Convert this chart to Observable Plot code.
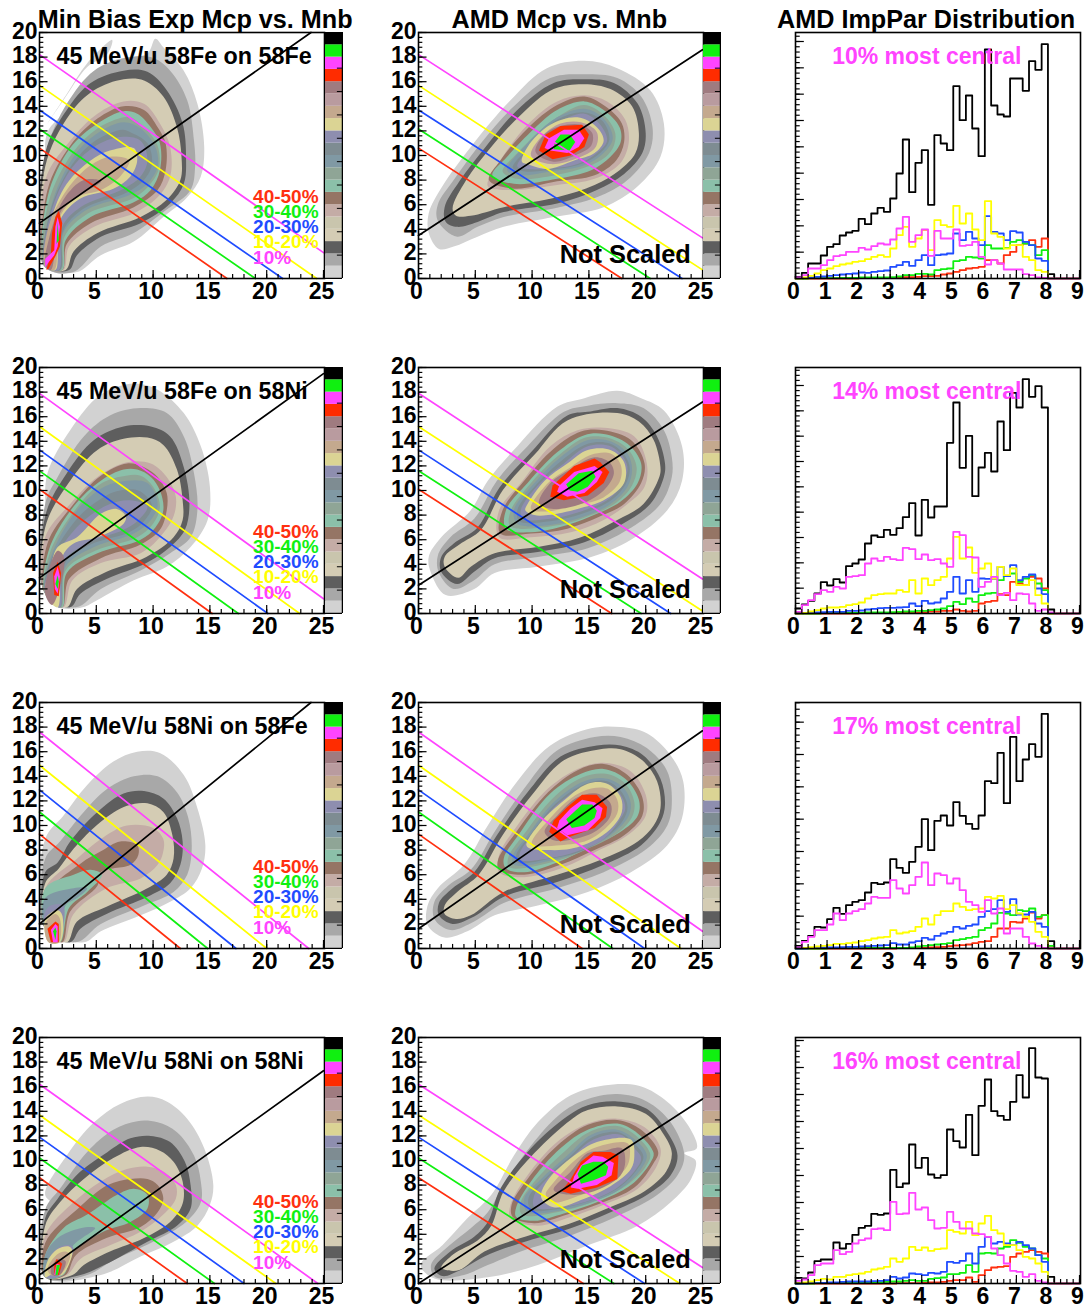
<!DOCTYPE html>
<html><head><meta charset="utf-8">
<script src="https://cdn.jsdelivr.net/npm/d3@7"></script>
<script src="https://cdn.jsdelivr.net/npm/@observablehq/plot@0.6"></script>
<style>body{margin:0;background:#fff}#c{position:relative;width:1086px;height:1308px;overflow:hidden}#c svg{position:absolute;background:none;max-width:none}</style>
</head><body><div id="c"></div>
<script>
const palette=["#d2d2d2","#a8a8a8","#5e5e5e","#d4ccb4","#c9c5ad","#c4aca6","#957565","#8bc0a9","#8fa596","#8099a4","#7e8c92","#8e8eaf","#dbd494","#c4a98e","#b99b9f","#9f7b80","#ff2c00","#ff44ff","#10f010","#000000"];
const lineColors={red:"#ff3010",green:"#10f010",blue:"#1f4cff",yellow:"#ffff00",magenta:"#ff44ff",black:"#000000"};

// ---- contour outlines [level, [x,y,x,y,...]] ----
const expFeFe=[
[0,[3.2,.5,5.4,1.9,8.3,3,10.9,5,13,6.6,14.2,8.3,14.5,10.7,13.9,14.2,12.7,16.9,10.9,18.8,10.2,19.5,9.5,18.3,6.8,17.8,4.3,16.4,2.4,13.7,.7,11.9,.5,9.1,.4,1]],
[0,[.7,12.6,2.4,15,4.2,17.5,6.4,19.4,6,18.3,4.2,17.2,2.1,14.5]],
[1,[2.9,.5,5.4,2.6,8.3,3.7,11.2,5.6,13.3,7.2,13.7,9.1,13.6,11.2,13,14.5,11.5,16.9,9.8,18,7.4,17.9,4.8,16.9,2.4,14.2,.7,10.7,.5,8.5,.4,1]],
[2,[2.6,.7,3.3,1.9,5.4,3.4,8.9,4.5,11.5,6.1,12.7,7.7,12.9,9.9,12.6,12.6,11.2,15.3,9.5,16.8,7.4,16.9,4.5,15.9,2.4,13.7,.5,10.2,.5,1]],
[3,[2.3,.7,3,2.2,5.1,3.7,8.9,5,11.2,6.4,12.4,8,12.5,9.9,12.1,12.3,10.9,14.8,9.2,16.1,7.4,16.2,4.8,15.3,2.7,13.4,.5,9.1,.5,1]],
[5,[2.1,.7,2.6,2.6,4.8,4.2,8.3,5.3,10.4,6.6,11.5,8.3,11.5,10.7,10.6,12.6,9.2,14.2,7.4,14.4,5.1,13.4,2.7,11.2,.5,8,.5,1]],
[6,[2,.7,2.4,2.8,4.5,4.5,8.3,5.8,10.4,7.2,11.1,8.8,11.1,11,10.4,12.3,9.2,13.7,7.4,14,5.1,13,2.7,10.8,.7,7.2,.5,1]],
[7,[2,.7,2.3,3.1,4.5,5,8.3,6.2,9.8,7.2,10.6,8.8,10.6,11,9.8,12.3,8.6,13.4,7.4,13.6,5.1,12.6,2.7,10.6,.7,6.6,.5,1]],
[8,[1.9,.7,2.2,3.4,4.3,5.3,8.2,6.5,9.6,7.5,10.5,8.9,10.4,10.8,9.3,12.2,8,13.1,7.4,13.1,5.1,12.2,2.9,10.2,.8,6.2,.5,1]],
[9,[1.8,.7,2.1,3.7,4.2,5.6,8,6.8,9.5,7.7,10.4,9.1,10.2,10.7,8.9,12.2,7.4,12.7,5.1,11.8,3,9.9,1,5.8,.5,1]],
[10,[1.8,.7,2.1,3.9,3.9,5.7,7.7,7,9.2,8,9.9,9.3,9.5,11,8,11.9,7.3,12.1,4.9,11.2,2.9,9.3,1,5.6,.5,1]],
[11,[1.7,.7,2,4.2,3.6,5.8,7.4,7.3,8.9,8.3,9.5,9.6,8.9,11.2,7.1,11.5,4.8,10.7,2.7,8.8,1,5.3,.5,1]],
[12,[1.4,.7,1.8,4.7,3.6,6.5,6.5,7.3,8,8.3,8.6,9.6,8.3,10.6,6.2,10.4,4.5,9.6,2.4,7.7,1,4.7,.5,1]],
[13,[1.3,.7,1.8,5,3.3,6.6,5.4,7.2,7.1,8.3,7.9,9.6,6.2,9.9,4.5,9.2,2.4,7.2,.8,4.2,.5,1]],
[15,[1,.7,1.8,5.3,2.9,6.4,5.4,7.9,3.9,8,2.1,6.4,.8,3.1,.5,1]],
[16,[.6,.7,1,2,1.1,3.7,1.4,5,1.7,5.5,2,4.5,1.8,2.6,1.4,1.8,.8,.8]],
[17,[.5,.9,.5,1.6,1.3,2.3,1.4,4.2,1.6,5,1.8,4.2,1.6,2.6,1.3,1.9,.7,1.2]],
[18,[1.5,2.8,1.6,4.6,1.7,3.1]]];
const amdFeFe=[
[0,[1.8,2.4,.9,3.7,.9,5.3,2.1,7.5,4.6,10.7,8.1,14.5,11.3,17.1,14.6,17.7,17.5,17.1,20.4,15.3,21.6,12.6,21.3,9.9,19.3,7.5,16.3,5.8,11.9,5,7.5,4.2,5.2,3.4,3.1,2.6]],
[1,[1.7,4.7,1.7,6,3.1,8,5.5,11,8.4,14,11.6,16.3,14.6,16.6,17.5,16.3,19.6,14.8,20.6,12.3,20.3,10.2,18.4,8,15.7,6.6,11.9,5.7,7.5,5,5.2,4.2,3.4,3.4]],
[2,[2.4,4.6,2.3,5.8,3.6,7.9,5.9,10.7,8.7,13.7,11.9,15.9,14.6,16.2,17.2,15.9,19.3,14.2,20,11.8,19.7,10.2,18.1,8.5,15.7,7.2,12.2,6.1,7.5,5.4,5.2,4.6,3.4,4.2]],
[3,[3.3,5.1,3,5.7,4.2,8,6.4,10.7,9,13.3,11.9,15.4,14.6,15.8,16.9,15.4,18.8,14,19.4,11.8,19.1,10.2,17.7,8.8,15.5,7.6,12.2,6.6,7.5,5.8,4.6,5.1]],
[5,[6.1,7.5,7,9.3,9.6,12.5,12.2,14.4,14.6,14.9,16.6,14.4,18.2,12.9,18.5,11,17.7,9.3,15.5,8.1,12.2,7.6,8.4,7.2]],
[6,[6.2,8,7.2,9.6,9.6,12.2,12.2,14.1,14.6,14.8,16.6,13.9,17.9,12.6,18.1,11.1,17.4,9.6,15.5,8.4,12.2,7.9,8.4,7.3]],
[7,[6.5,8.4,7.8,9.9,10.2,12.2,12.2,13.7,14.6,14.4,16.3,13.7,17.7,12.3,17.8,11.1,16.9,9.9,15.2,8.8,12.2,8.1,8.4,7.7]],
[8,[7.4,8.7,8.7,10.2,10.8,12.1,12.7,13.4,14.6,14.1,16.3,13.3,17.3,11.9,17.2,10.8,16.5,9.9,14.9,9.1,12,8.4,8.7,8.1]],
[9,[7.8,8.8,9.6,11,12.2,13.1,14.6,13.8,16.3,13,17.1,11.4,16.3,10.2,14.6,9.2,11.6,8.7,9,8.4]],
[10,[8.3,9,9.9,10.8,12.2,12.9,14.6,13.5,16.2,12.8,16.8,11.3,16,10.2,14.3,9.3,11.3,8.8,9.4,8.7]],
[11,[8.7,9.1,10.2,11,12.2,12.6,14.6,13.4,16,12.5,16.6,11.2,15.7,10.2,14,9.3,11.3,8.9,9.6,8.9]],
[12,[9.1,9.5,9.6,10.7,11.6,12.5,14,13.1,15.7,12.3,16.3,11.2,15.5,10.2,13.7,9.6,11.3,8.9,9.6,9.3]],
[14,[9.9,10,10.8,11.5,12.5,12.6,14.3,12.7,15.7,11.9,15.6,10.7,14.3,9.9,11.6,9.3]],
[15,[10.3,10.3,11.2,11.8,12.5,12.4,14.3,12.5,15.3,11.8,15.2,10.8,14,10.1,11.9,9.5]],
[16,[10.6,10.4,11.2,11.7,12.5,12.4,14.4,12.5,15,11.7,14.6,10.7,13.4,10,11.8,9.7]],
[17,[11.1,10.6,11.5,11.4,12.8,12.1,14.1,12.1,14.6,11.4,14.1,10.7,13.1,10.2,11.6,10.4]],
[18,[12,11.1,12.5,11.7,13.3,11.7,13.8,11.1,13.3,10.4,11.9,10.5]]];
const expFeNi=[
[0,[3.8,.5,5.1,1.1,8.3,2.7,11.2,3.8,13.3,5.4,14.8,7.6,15,10.3,14.2,13.6,12.7,16.3,10.4,18.2,8.3,18.7,5.4,17.8,2.7,14.9,.7,11.4,.5,8.4,.5,1.6,1.6,.5]],
[1,[3.2,.5,5.4,2,8.9,3.5,11.5,4.9,13.3,6.2,13.9,8.4,13.6,11.4,12.7,14.4,11.2,16.3,8.9,16.7,6.2,16.1,3.9,14.4,1.6,11.1,.5,8.9,.5,1.6]],
[2,[2.7,.5,3.6,1.6,5.9,2.8,9.4,4.1,11.5,5.4,12.8,6.8,13.2,8.9,12.7,11.9,11.5,14.4,9.8,15.2,7.4,15.2,4.8,14.1,2.4,11.4,.5,7.9,.5,1.6]],
[3,[2.4,.5,3.3,2,5.9,3.4,9.4,4.6,11.8,6.2,12.6,7.6,12.6,9.2,12.1,11.7,10.9,13.7,9.5,14.3,7.4,14.2,5.1,13.3,2.7,10.8,.5,7,.5,1.6]],
[5,[2.1,.5,2.9,2.7,5.4,4.1,8.9,4.9,10.6,6.2,11.8,7.9,12,9.5,11.2,11.1,9.8,12.2,7.7,12.3,5.1,11.1,2.7,8.9,.5,6.2,.5,1.6]],
[6,[2,.5,2.6,2.8,5.4,4.5,8.9,5.6,10.6,6.8,11.2,8.4,11.2,9.8,10.4,11.1,9.2,11.9,7.7,12.2,5.4,11.2,3,8.9,.7,5.7,.5,1.6]],
[7,[2,.5,2.4,3.3,5.1,4.9,8.9,6,10.2,7,10.9,8.4,10.6,10,9.8,11.1,8.6,11.7,7.4,11.7,5.4,10.8,3,8.7,.8,5.1,.5,1.6]],
[8,[1.9,.5,2.3,3.5,4.9,5.1,8.6,6.2,10,7.3,10.6,8.7,10,10.3,8.9,11.2,7.6,11.2,5.5,10.6,3.2,8.5,.9,4.9,.5,1.6]],
[9,[1.8,.5,2.3,3.8,4.8,5.4,8.3,6.5,9.8,7.6,10.4,8.9,9.5,10.6,7.7,10.8,5.7,10.3,3.3,8.4,1,4.6,.5,1.6]],
[10,[1.8,.5,2.2,4,4.5,5.6,7.9,6.6,9.2,7.5,9.9,8.8,8.7,10,7.1,10,5.9,9.6,3.5,7.9,1,4.3,.5,1.6]],
[11,[1.8,.5,2.1,4.2,4.2,5.7,7.4,6.8,8.6,7.5,9.5,8.7,8,9.2,6.2,8.9,3.6,7.3,1.1,4.1,.5,1.6]],
[12,[1.6,.5,2,4.6,3,5.7,5.1,6.2,7.4,7.3,7.6,7.9,6.8,8.5,5.4,8.1,3.3,6.2,1.6,5.4,1,3.8,.5,1.6]],
[15,[1.1,.7,2.1,3.3,2.1,4.7,1.6,5.1,.8,3.5,.5,1.6]],
[16,[1.3,1.5,1.7,1.4,1.9,3.3,1.6,4.2,1.2,3.3]],
[17,[1.35,2,1.6,1.6,1.8,3,1.6,3.8,1.3,3]],
[18,[1.4,2.4,1.6,2,1.7,2.6,1.6,3.1]]];
const amdFeNi=[
[0,[2.4,1.5,1.1,3.3,.9,4.6,2,6.2,4.6,8.4,6.1,10.8,8.7,13.6,12.2,16.8,14.6,17.5,17.5,18.1,19.6,17.5,21.6,16.5,23.2,13.6,23.2,10.8,21.9,8.4,18.7,6,15.2,4.6,10.5,3.8,6.7,3.3,4.9,2]],
[1,[3.1,2,1.8,3.3,1.7,4.7,2.8,6.2,4.9,7.7,6.9,10.8,9.6,13.6,12.8,16.4,14.9,16.9,17.5,17.1,19.8,16.7,21.6,14.9,22.3,12.7,22.3,11.1,21.3,8.9,18.4,6.8,14.9,5.3,10.5,4.6,6.7,4,4.9,2.7]],
[2,[3.4,2.4,2,3.4,2,4.6,3.1,5.7,5.2,7,7.1,10.2,9.9,13.1,13.1,16.1,14.9,16.4,17.5,16.7,19.6,16,21,14.4,21.7,12.2,21.6,11.1,20.4,8.9,17.8,7.2,14.6,5.8,10.5,5,6.7,4.5,4.9,3.4]],
[3,[3.5,2.9,2.3,3.8,2.3,4.6,3.6,5.6,5.5,6.8,7.4,10,10.2,12.9,13.1,15.7,17.5,16.3,19.4,15.6,20.7,14.1,21.3,11.9,21.2,11.1,19.8,8.9,17.5,7.6,14.3,6.2,10.5,5.4,6.7,4.9,4.6,3.8]],
[5,[7.1,6.2,7.1,8.4,9,10.6,11.6,13.6,14,14.9,16.3,15.1,19,14.4,20.1,12.2,19.9,10.3,18.4,8.9,16.3,7.6,13.4,6.6,9.9,6.2]],
[6,[7.2,6.5,7.4,8.4,9.3,10.8,11.9,13.4,14.3,14.8,16.3,14.9,18.7,14.1,19.9,12.2,19.6,10.6,18.1,8.9,16,7.9,13.1,6.9,9.9,6.5]],
[7,[7.7,6.9,7.7,8.4,9.6,10.6,12.2,13.1,14.6,14.5,16.3,14.6,18.4,13.8,19.6,12.2,19.3,10.6,17.8,9.1,15.7,8.1,13.1,7.2,9.9,6.6]],
[8,[8.1,7.1,8.1,8.3,9.9,10.6,12.4,12.9,14.7,14.3,16.6,14.3,18.4,13.4,19.2,11.9,18.8,10.4,17.4,9,15.2,8,12.4,7.2]],
[9,[8.7,7.3,8.4,8.4,10.2,10.6,12.5,12.7,14.9,14.1,16.9,14,18.4,13,18.8,11.7,18.4,10.3,16.9,8.9,14.6,7.9,11.6,7.2]],
[10,[8.9,7.5,8.7,8.4,10.5,10.6,12.7,12.5,14.9,13.8,16.9,13.8,18.2,12.8,18.6,11.7,18.1,10.3,16.8,9.1,14.4,8.1,11.6,7.5]],
[11,[9.2,7.7,9,8.4,10.7,10.6,12.8,12.2,14.9,13.6,16.9,13.6,18.1,12.6,18.4,11.7,17.8,10.3,16.6,9.2,14.3,8.3,11.6,7.7]],
[12,[9.4,8.4,9.6,8.9,11.1,10.8,13.1,12.2,14.9,13.3,16.9,13.3,18.1,12.3,18.1,10.6,16.3,9.2,14,8.5,11.4,8,10.2,8]],
[13,[9.9,8.5,11.4,10.6,13.4,11.9,15.2,12.9,16.9,13,17.8,12.1,17.7,10.7,16,9.3,13.7,8.8,11.4,8.3]],
[15,[10.6,8.9,11.6,10.6,13.7,11.9,15.5,12.7,16.8,12.3,17.2,11.4,16.3,10,14.3,8.9,11.9,8.5]],
[16,[11.6,9.5,11.8,10.4,13.7,12,15.5,12.6,16,12.3,16.8,11.5,16.3,10.6,14.9,9.6,12.8,9.2]],
[17,[12.2,9.9,12.4,10.4,13.7,11.5,15.5,12,16.2,11.5,15.7,10.7,14.6,9.8,13.1,9.5]],
[18,[13,10.5,14.1,11.4,15.3,11.6,15.6,11.1,14.9,10.3,14,9.9,13.3,10]]];
const expNiFe=[
[0,[3.9,.5,5.4,1.4,8.9,2.7,11.5,3.8,13.3,4.9,14.3,6.5,14.6,8.4,13.9,11.4,12.7,14.1,10.6,15.9,8.6,16,6.5,15.2,4.2,13.3,2.1,10.8,.5,8.9,.5,1.6]],
[1,[3.2,.5,5.4,2,9.2,3.5,11.8,4.6,13,6,13.4,8.1,13.1,10.6,12.1,12.7,10.4,14,8.3,14,6,13,3.9,11.1,1.8,8.7,.5,7.3,.5,1.6]],
[2,[2.7,.5,3.6,1.6,5.9,2.8,9.5,4.2,11.5,5.3,12.4,6.8,12.6,8.7,12.1,10.6,10.9,12.2,9.2,12.8,7.4,12.6,5.1,11.1,2.7,8.7,1.6,7,.5,6.2,.5,1.6]],
[3,[2.4,.5,3.3,2.2,5.9,3.4,9.5,4.9,11.2,6,11.8,7.3,11.7,9.2,10.9,11.1,9.5,11.8,7.7,11.6,5.4,10.3,3,8.1,1.7,6.5,.5,5.3,.5,1.6]],
[5,[2.1,.5,3,2.8,5.9,4.9,8.9,5.7,10.4,6.8,10.9,7.9,10.9,8.9,10,9.8,7.7,10,5.4,8.9,3.3,7.3,.5,4.9,.5,1.6]],
[6,[2,.5,2.7,3,5.1,5.1,5.4,6.2,8,6.8,8.7,7.6,8.6,8.4,7.1,8.7,5.4,7.9,3.6,6.9,.5,4.3,.5,1.6]],
[7,[1.8,.5,2.6,3.3,4.2,4.6,5.5,6,4.5,6.4,3,6,.5,4.9,.5,1.6]],
[9,[1.7,.5,2.3,3.5,3.3,4.1,4.2,4.9,3,4.9,.5,4.1,.5,1.6]],
[11,[1.6,.5,2.1,3.5,1,3.5,.5,3,.5,1.6]],
[12,[.5,2.4,1.6,3.1,2,2.7,1.8,.5,.8,.5]],
[13,[.5,2,1.4,2.8,1.8,2.4,1.7,.5,.8,.5]],
[16,[.7,1.6,1.4,2.2,1.7,2,1.7,.5,1,.5]],
[17,[1,1.5,1.4,2,1.6,1.8,1.6,.5,1.2,.5]],
[18,[1.2,1.4,1.4,1.7,1.5,1.4,1.4,.7]]];
const amdNiFe=[
[0,[2.3,.9,.8,1.9,.8,3.5,1.7,4.9,4,6.8,6.1,10,8.7,13.6,11.6,16.5,15.2,17.9,17.8,18,20.1,17.5,22.2,15.7,23.3,13.6,23.2,10.6,21.9,8.4,18.7,6.2,14.9,4.6,10.5,3.5,6.7,2.7,4.3,1.4]],
[1,[2.8,1.5,1.4,2.4,1.4,3.8,2.6,5.1,4.6,6.4,6.7,9.5,9.3,13,12.2,16.1,15.5,17.2,17.8,17.2,20.1,16.3,21.9,14.4,22.3,11.9,21.9,10,20.1,8.1,16.3,6.2,12.2,4.9,7.5,3.7,4.9,2.2]],
[2,[3,2,1.8,2.7,1.8,3.7,3,4.9,4.9,6.2,6.9,9.2,9.6,12.7,12.5,15.6,15.7,16.5,17.8,16.5,19.8,15.7,21.3,13.8,21.7,11.7,21.3,10.3,19.6,8.4,16.3,6.8,12.2,5.4,7.5,4.2,4.9,2.6]],
[3,[3.3,2.4,2.3,2.8,2.3,3.5,3.4,4.6,5.3,6,7.4,9.2,10,12.5,12.8,15.3,16,16.2,17.8,16.2,19.7,15.3,21,13.6,21.3,11.4,20.7,10,19.3,8.7,16,7.2,12.2,6,7.5,4.6,4.6,2.7]],
[5,[7.1,6.2,7.1,7.6,8.7,10,11.4,13,14,14.6,16.3,15.1,18.7,14.4,20,12.5,20,10.8,18.4,9.2,15.7,7.9,12.8,6.6,9.3,5.8]],
[6,[7.1,6.4,7,7.2,8.7,9.6,11.4,12.7,14,14.5,16.3,15,18.4,14.1,19.7,12.3,19.7,10.8,18.1,9.2,15.5,8,12.5,6.8,9.3,6]],
[7,[7.7,6.5,7.5,7.3,9,9.5,11.6,12.6,14.3,14.2,16.3,14.6,18.2,13.8,19.4,12.1,19.3,10.8,17.8,9.5,15.2,8.3,12.2,7,9.3,6.2]],
[8,[8,6.6,7.9,7.4,9.3,9.3,11.8,12.2,14.4,13.9,16.5,14.2,18.2,13.4,19,11.9,18.8,10.7,17.4,9.3,14.9,8.1,12.1,7.1]],
[9,[8.4,6.8,8.3,7.5,9.6,9.2,11.9,11.9,14.6,13.6,16.6,13.8,18.1,13,18.7,11.7,18.4,10.6,16.9,9.2,14.6,8,11.9,7.2]],
[10,[8.7,7,8.6,7.6,9.9,9.3,12.1,11.8,14.7,13.4,16.6,13.6,17.9,12.7,18.4,11.5,18,10.4,16.6,9.1,14.3,7.9,11.6,7.3]],
[11,[9,7.2,8.9,7.7,10.2,9.5,12.2,11.7,14.9,13.3,16.6,13.4,17.8,12.5,18.2,11.4,17.6,10.3,16.3,8.9,14,7.9,11.3,7.3]],
[12,[9.5,8.4,10.8,10.3,12.5,11.8,14.9,13.4,16.6,13.4,17.8,12.3,17.9,11.1,17.2,10,15.7,8.9,13.4,8.1,11.3,8,9.9,8.1]],
[13,[10,8.5,11.6,10.6,13.4,12.2,15.2,13,16.6,13,17.5,12.1,17.5,11,16.6,9.9,14.9,8.8,12.5,8.4]],
[15,[11.1,9.5,12.2,10.8,14,12.3,15.7,12.6,16.9,11.8,16.9,10.8,15.7,9.6,13.7,8.9,11.9,8.8]],
[16,[11.5,9.5,11.9,10.4,13.1,11.5,14.4,12.5,15.7,12.5,16.6,11.5,16.5,10.7,15.5,9.8,13.4,9.1,12.5,8.7]],
[17,[12.2,9.8,12.4,10.4,13.4,11.4,14.4,12.1,15.5,11.9,16.2,11.4,16,10.6,14.9,9.6,13.1,9.2]],
[18,[13,10.5,14.4,11.7,15.3,11.7,15.7,11.2,15.5,10.6,14.6,10,13.5,9.8]]];
const expNiNi=[
[0,[5.4,.7,8.9,2.2,11.8,3.4,13.9,4.7,15,6.4,15.3,8,14.5,11,13,13.4,11.2,14.8,9.5,15.2,7.1,14.6,4.8,13.1,2.4,10.4,.5,7.2,1.6,6.2,.5,5.8,.5,.5]],
[1,[4.2,.7,6.5,1.9,10,3.4,12.9,5,14.2,6.6,14.2,8.3,13.6,10.4,12.1,12.3,10.4,13.1,8.6,13.2,6.5,12.5,4.2,10.7,1.8,7.7,.5,6,.5,.5]],
[2,[3.6,.7,5.7,1.5,9.5,3.4,12.1,4.7,13.3,6.1,13.3,8,12.8,9.9,11.5,11.5,9.8,12,8,11.8,6,10.7,3.6,9.1,1.6,6.9,.5,5.3,.5,.5]],
[3,[2.9,.7,3.9,1.5,6.2,2.6,9.2,3.7,11.5,5,12.6,6.5,12.6,8.3,11.8,9.9,10.6,10.8,8.9,11.1,6.5,10.2,3.9,8.5,1.8,6.6,.5,4.7,.5,.5]],
[5,[2.4,.7,3.6,2,6.2,3.1,8.9,4.2,10.9,5.6,12,6.9,12,8,10.9,9.1,9.5,9.5,7.7,9.3,5.4,8.3,3,6.6,.5,3.9,.5,.5]],
[6,[2.3,.7,3.2,2.3,5.9,3.7,8.9,4.6,10.4,5.8,10.9,6.9,10.4,8,9.5,8.5,8,8.5,6,8,3.4,6.1,.5,3.3,.5,.5]],
[7,[2.1,.7,3,2.6,5.6,4.2,8,5,9.5,6.1,9.5,7.2,8.3,7.7,6.8,7.2,4.2,5.6,2.1,4.5,.5,2.3,.5,.5]],
[9,[2,.7,2.9,3,4.9,4.5,3.6,4.5,1.6,3.7,.5,2.3,.5,.5]],
[11,[1.8,.7,3,2.8,2.7,3.1,1.8,3,.8,2,.5,.5]],
[12,[1,.7,2,.7,2.9,2.6,2.6,3,1.6,2.8,.7,1.8,.5,.5]],
[13,[1,.7,1.8,.7,2.7,2.3,2.3,2.6,1.6,2.4,.7,1.2]],
[15,[1.1,.7,1.8,.7,2.3,1.8,1.6,2,1,1.2]],
[16,[1.3,.7,1.7,.7,2,1.6,1.5,2,1.3,1.5]],
[17,[1.3,.7,1.6,.7,1.8,1.5,1.5,1.6]],
[18,[1.4,.7,1.6,.7,1.8,1.5,1.5,1.5]]];
const amdNiNi=[
[0,[1.4,.4,.2,1.5,2.1,3.1,4.3,5.3,6.4,7.2,8.4,10.4,10.5,13.1,13.4,15.3,16.3,16.1,19.3,16.1,21.6,15,23.7,12.9,24.5,11,23.4,10.6,24.4,10,24,8.5,22.2,6.6,19.3,4.7,14.9,3.1,10.5,1.5,6.1,.5]],
[1,[1.5,.5,1.1,1.5,2.6,3,4.6,4.5,6.1,5.8,7.5,8,9.9,11.2,12.5,13.8,14.6,14.9,17.5,15.4,20.1,14.8,22.2,13.1,23.4,10.4,22.8,8.8,21,7.2,17.8,5.6,13.4,3.9,9,2.6,6.1,1.5,4,.7]],
[2,[2.1,.6,1.4,1.2,2.8,2.6,4.9,3.8,6.1,5,7.2,7.7,9.9,11,13.1,13.6,14.9,14.5,17.5,14.8,20.1,14.2,21.9,12.3,22.8,10.4,22.2,8.8,20.1,7.2,16.9,5.8,13.4,4.5,9,3.3,5.8,2.2,3.7,1.1]],
[3,[2.4,1.1,2,1.3,3.1,2.4,5.2,3.5,6.4,4.7,7.5,7.5,10.2,10.6,13.4,13.3,14.9,14.1,17.5,14.4,20,13.8,21.6,12.1,22.3,10.6,21.8,9.1,19.9,7.5,16.6,6.1,13.4,4.9,9,3.7,5.8,2.6,3.6,1.1]],
[5,[8.1,5.3,8.1,6.4,9.6,8.8,12.2,11.5,14.9,13,17.5,13.4,19.9,12.7,21.3,11,21,9.6,19.3,7.7,16.3,6.4,13.4,5.4,10.5,4.7]],
[6,[8.3,5.4,8.2,6.4,9.6,8.5,12.2,11.2,14.9,12.9,17.5,13.3,19.6,12.5,21.1,10.7,20.7,9.8,19,7.8,16,6.5,13.1,5.6,10.2,4.9]],
[7,[8.6,5.4,8.6,6.2,9.9,8.3,12.5,11,14.9,12.5,17.5,13,19.3,12.2,20.7,10.6,20.4,9.8,18.7,8,15.7,6.6,12.8,5.7,10.2,5.1]],
[8,[9.1,5.6,9,6.6,10.3,8.4,12.8,10.7,15,12.3,17.5,12.8,19.3,11.9,20.4,10.5,20,9.5,18.2,7.9,15.3,6.6,12.2,5.8]],
[9,[9.6,5.8,9.3,6.9,10.8,8.5,13.1,10.4,15.2,12.1,17.5,12.5,19.3,11.5,20.1,10.4,19.6,9.3,17.8,7.7,14.9,6.5,11.6,5.8]],
[10,[9.9,6,9.7,7,11.1,8.5,13.3,10.3,15.3,11.9,17.6,12.3,19.1,11.3,19.8,10.3,19.2,9.2,17.5,7.7,14.7,6.6,11.8,6]],
[11,[10.2,6.2,10.2,7.2,11.3,8.5,13.4,10.2,15.4,11.7,17.8,12.1,18.9,11.1,19.6,10.2,19,9.1,17.2,7.6,14.6,6.6,11.9,6.1]],
[12,[10.8,7,11.3,8.3,13.7,10.4,15.7,11.5,18.7,11.7,19,10.4,18.7,9.3,16.9,7.9,14.6,6.9,11.9,6.2]],
[13,[11.2,7.2,11.8,8.1,14,10.2,15.7,11.1,18.4,11.4,18.6,10.3,18.2,9.3,16.3,7.9,14.3,7.2,11.9,6.6]],
[15,[11.9,7.6,13.4,9.1,14.9,10.6,16.3,10.8,17.9,11,18.2,9.9,17.8,8.8,16,7.7,13.7,7.2]],
[16,[12.6,7.5,13.4,8.5,14.3,9.9,15.4,10.7,16.9,10.7,17.6,10.4,17.5,8.5,15.7,7.8,13.4,7.3]],
[17,[13.4,7.8,13.7,8.7,14.3,9.6,15.4,10.4,16.2,10.3,17.2,9.8,17,8.8,15.7,8,14,7.7]],
[18,[14,8.9,14.4,9.6,15.4,9.9,16.3,9.9,16.7,9.5,16.5,8.8,15.4,8.4,14.3,8.1]]];

// ---- gate lines: [color, x1,y1,x2,y2] ----
const linesExpFeFe=[["red",0,10.6,16.5,0],["green",0,12.15,19,0],["blue",0,13.7,21.4,0],["yellow",0,15.7,24.4,0],["magenta",0,18.2,25,2.1],["black",0,4.5,23.9,20]];
const linesAmdFeFe=[["red",0,10.6,17.9,0],["green",0,12.15,20.4,0],["blue",0,13.7,23.2,0],["yellow",0,15.7,25,.7],["magenta",0,18.2,25,3.3],["black",0,3.5,25,18.6]];
const linesExpFeNi=[["red",0,10.1,15.2,0],["green",0,11.6,17.5,0],["blue",0,13.3,20.1,0],["yellow",0,15.2,22.9,0],["magenta",0,17.9,25,1.2],["black",0,2.9,25,19.5]];
const linesAmdFeNi=[["red",0,10.1,17,0],["green",0,11.6,19.6,0],["blue",0,13.3,22.2,0],["yellow",0,15.2,25,.2],["magenta",0,17.9,25,2.8],["black",0,2.3,25,17.2]];
const linesExpNiFe=[["red",0,9.3,12.4,0],["green",0,11.1,14.8,0],["blue",0,12.9,17.3,0],["yellow",0,14.9,20,0],["magenta",0,17.6,23.7,0],["black",0,2,23.9,20]];
const linesAmdNiFe=[["red",0,9.3,14.4,0],["green",0,11.1,17.1,0],["blue",0,12.9,19.9,0],["yellow",0,14.9,23.1,0],["magenta",0,17.6,25,1.4],["black",0,1.6,25,17.7]];
const linesExpNiNi=[["red",0,8.6,13,0],["green",0,10.2,15.4,0],["blue",0,11.9,18,0],["yellow",0,13.7,20.8,0],["magenta",0,16.2,24.5,0],["black",0,.7,25,17.3]];
const linesAmdNiNi=[["red",0,8.6,14.5,0],["green",0,10.2,17.2,0],["blue",0,11.9,19.9,0],["yellow",0,13.7,23,0],["magenta",0,16.2,25,1.3],["black",0,0,25,15]];

// ---- impact parameter histograms: bin contents (bins of width 0.2) ----
const h1={
black:[5,17,45,45,69,95,103,129,138,143,179,163,195,212,200,240,315,417,259,347,385,221,430,405,385,577,475,549,450,367,687,519,492,486,600,600,563,652,626,703,13],
red:[0,0,0,0,0,0,0,0,0,0,1,1,1,1,1,2,3,4,4,5,7,7,8,12,15,20,25,30,32,35,55,55,45,70,80,100,105,115,95,120],
green:[0,0,1,1,1,1,1,2,2,2,3,3,3,3,3,4,6,10,10,14,14,12,25,28,30,52,55,65,63,60,100,90,90,92,110,115,105,100,70,85],
blue:[0,1,3,5,6,8,10,12,14,15,18,17,20,22,24,35,40,50,38,55,70,40,70,72,75,135,115,140,120,100,187,140,135,115,142,138,110,100,60,53],
yellow:[0,3,8,15,25,30,37,42,45,50,52,58,65,70,65,90,130,155,95,120,145,85,175,160,155,218,165,195,147,115,232,135,125,90,100,100,65,55,25,20],
magenta:[3,10,30,30,40,55,67,70,80,80,92,87,97,105,102,117,150,185,110,130,147,68,143,120,120,147,98,100,110,65,42,55,45,27,27,27,13,10,3,2]};
const h2={
black:[15,27,38,60,94,84,103,93,142,150,162,210,234,229,251,236,256,289,331,234,341,288,321,321,512,633,437,533,352,438,482,426,576,490,662,618,703,650,682,618,12],
red:[0,0,0,0,0,0,0,0,0,0,1,1,1,1,1,1,2,2,3,3,4,6,6,8,8,12,8,6,8,30,35,38,58,55,95,90,85,110,105,75],
green:[0,0,0,0,1,1,1,1,2,2,2,3,3,3,3,4,5,6,6,8,8,10,12,15,22,35,28,45,35,55,60,62,100,112,120,95,105,115,90,70],
blue:[0,1,2,3,4,5,5,5,8,8,9,12,14,16,17,17,18,19,30,22,38,30,33,45,65,110,60,100,65,105,104,104,140,112,145,100,110,117,75,58],
yellow:[0,2,6,10,15,18,18,20,25,28,33,45,55,58,60,60,70,65,100,60,105,85,100,110,165,230,165,198,122,135,150,105,140,115,135,85,85,100,55,30],
magenta:[5,25,40,58,70,65,80,75,110,112,115,150,165,158,170,163,160,197,193,163,177,160,163,150,140,245,235,170,168,80,95,110,55,62,40,60,58,30,8,12,3]};
const h3={
black:[8,23,38,65,63,88,122,104,130,140,145,168,197,193,198,268,242,227,260,305,388,295,383,399,369,439,398,374,359,399,502,496,587,436,635,502,567,613,575,704,22,2],
red:[0,0,0,0,0,0,0,0,0,0,0,0,0,0,0,0,1,1,1,1,2,3,4,5,7,9,10,12,16,20,22,35,60,60,80,78,90,108,90,100,3],
green:[0,0,0,0,0,1,1,1,1,1,1,2,2,2,2,2,2,2,3,6,8,10,12,14,16,25,28,32,35,55,62,75,107,105,100,115,112,120,95,100,8],
blue:[0,0,1,2,3,3,3,4,5,5,6,7,8,9,10,16,12,12,18,22,32,27,38,45,50,65,60,68,72,95,112,118,145,110,148,102,102,110,75,65],
yellow:[1,2,4,6,8,10,14,14,16,18,22,25,30,33,35,55,45,48,52,65,90,72,100,112,112,135,125,115,118,120,155,150,158,118,130,105,95,80,50,35],
magenta:[3,20,35,55,55,72,105,85,105,112,118,135,155,152,152,205,180,165,190,215,258,190,225,220,195,210,175,140,130,110,145,105,120,45,60,60,35,15,8,2]};
const h4={
black:[17,15,33,67,72,72,123,105,119,146,167,173,209,206,210,341,289,300,417,347,377,327,317,325,462,427,408,506,385,533,612,517,503,491,545,625,558,706,618,615,20,2],
red:[0,0,0,0,0,0,0,0,0,0,0,0,0,0,0,0,1,1,1,1,2,3,3,5,8,10,10,18,5,25,40,48,50,52,80,90,95,100,95,90],
green:[0,0,0,1,1,1,1,1,2,2,2,3,3,4,5,6,6,8,10,8,8,14,16,18,28,28,32,55,35,90,92,90,105,110,130,122,110,105,85,75],
blue:[0,0,1,1,2,3,3,5,6,6,6,6,7,8,10,20,15,18,30,28,25,32,30,35,65,62,68,90,60,110,140,120,125,120,115,125,115,105,85,65],
yellow:[1,3,6,10,14,12,20,20,25,28,30,35,42,45,50,75,65,75,110,100,108,98,103,105,160,155,150,185,145,180,203,160,150,115,115,100,80,75,60,35],
magenta:[8,12,25,55,60,60,100,88,95,120,130,135,163,165,160,245,208,210,272,222,228,190,165,167,215,185,165,165,150,148,140,105,85,60,38,35,20,28,8,3]};

// ---- labels and ticks ----
const systems=["45 MeV/u 58Fe on 58Fe","45 MeV/u 58Fe on 58Ni","45 MeV/u 58Ni on 58Fe","45 MeV/u 58Ni on 58Ni"];
const centrality=["10% most central","14% most central","17% most central","16% most central"];
const histMajor=[79,76,97,81];
const gateLabels=[["40-50%","red",6.62],["30-40%","green",5.45],["20-30%","blue",4.2],["10-20%","yellow",2.95],["10%","magenta",1.65]];
const titles=["Min Bias Exp Mcp vs. Mnb","AMD Mcp vs. Mnb","AMD ImpPar Distribution"];
const xTicks2d=[0,5,10,15,20,25], xMinor2d=d3.range(0,25.01,1);
const yTicks2d=[0,2,4,6,8,10,12,14,16,18,20], yMinor2d=d3.range(0,20.01,.4);
const xTicks1d=[0,1,2,3,4,5,6,7,8,9], xMinor1d=d3.range(0,9.01,.2);
const colorTicks=[1.9,3.8,5.7,7.6,9.5,11.4,13.3,15.2,17.1];

const font="'Liberation Sans',Arial,Helvetica,sans-serif";
const rowTop=[32,367,702,1037], FH=246, MT=32, MB=26;
const root=document.getElementById("c");
function place(svg,left,top){svg.style.left=left+"px";svg.style.top=top+"px";root.appendChild(svg);}
const sty={fontFamily:font,fontWeight:"bold",fontSize:"23px",background:"none",overflow:"visible"};

function panel2d(contours,gates,row,frameLeft,title,extra,titleX){
  const W=285, ML=38;
  const marks=[];
  const ordered=[...contours].sort((a,b)=>a[0]-b[0]);
  for(const [lv,flat] of ordered){
    const pts=[];for(let i=0;i<flat.length;i+=2)pts.push({x:flat[i],y:flat[i+1]});
    marks.push(Plot.line(pts,{x:"x",y:"y",fill:palette[lv],stroke:"none",clip:true,curve:lv>=16?"linear-closed":"catmull-rom-closed"}));
  }
  for(const [c,x1,y1,x2,y2] of gates)
    marks.push(Plot.line([{x:x1,y:y1},{x:x2,y:y2}],{x:"x",y:"y",stroke:lineColors[c],strokeWidth:1.7}));
  marks.push(...extra);
  marks.push(Plot.ruleX(xTicks2d,{x:d=>d,y1:0,y2:.65,stroke:"#000",strokeWidth:1.2}));
  marks.push(Plot.ruleX(xMinor2d,{x:d=>d,y1:0,y2:.33,stroke:"#000",strokeWidth:1.2}));
  marks.push(Plot.ruleY(yTicks2d,{y:d=>d,x1:0,x2:.75,stroke:"#000",strokeWidth:1.2}));
  marks.push(Plot.ruleY(yMinor2d,{y:d=>d,x1:0,x2:.38,stroke:"#000",strokeWidth:1.2}));
  marks.push(Plot.axisX({ticks:xTicks2d,tickSize:0,tickPadding:4,label:null,dx:-2,fontSize:23}));
  marks.push(Plot.axisY({ticks:yTicks2d,tickSize:0,tickPadding:2,label:null,dy:-1,fontSize:23}));
  marks.push(Plot.frame({stroke:"#000",strokeWidth:1.6}));
  if(row===0) marks.push(Plot.text([title],{x:titleX,y:20,text:d=>d,fontSize:25.2,dy:-13,fill:"#000",clip:false}));
  const svg=Plot.plot({width:ML+W+1,height:MT+FH+MB,marginLeft:ML,marginRight:1,marginTop:MT,marginBottom:MB,
    x:{domain:[0,25],range:[ML,ML+W-1]},y:{domain:[0,20],range:[MT+FH,MT]},style:sty,marks});
  place(svg,frameLeft-ML,rowTop[row]-MT);
}
function colorbar(left,row){
  const svg=Plot.plot({width:18,height:FH+2,marginLeft:0,marginRight:1,marginTop:1,marginBottom:1,
    x:{domain:[0,1],axis:null},y:{domain:[0,20],axis:null},style:{...sty,overflow:"hidden"},
    marks:[Plot.rect(palette,{x1:0,x2:1,y1:(d,i)=>i,y2:(d,i)=>i+1,fill:d=>d}),
      Plot.ruleX([1],{stroke:"#000",strokeWidth:1.5}),Plot.ruleY([0],{stroke:"#000",strokeWidth:1.5}),
      Plot.ruleY(colorTicks,{y:d=>d,x1:.7,x2:1,stroke:"#000",strokeWidth:1})]});
  place(svg,left,rowTop[row]-1);
}
function hist(vals){
  const a=[];for(let i=0;i<45;i++)a.push({x:i*.2,y:vals[i]||0});a.push({x:9,y:0});return a;
}
function panel1d(h,row,title){
  const ML=24,W=285;
  const marks=[];
  for(const k of ["black","red","green","blue","yellow","magenta"])
    marks.push(Plot.line(hist(h[k]),{x:"x",y:"y",stroke:lineColors[k],strokeWidth:1.8,curve:"step-after"}));
  const major=d3.range(0,738,histMajor[row]), minor=d3.range(0,738,histMajor[row]/5);
  marks.push(Plot.text([centrality[row]],{x:4.16,y:666,text:d=>d,fill:"#ff44ff",fontSize:23}));
  marks.push(Plot.ruleY(major,{y:d=>d,x1:0,x2:.28,stroke:"#000",strokeWidth:1.2}));
  marks.push(Plot.ruleY(minor,{y:d=>d,x1:0,x2:.15,stroke:"#000",strokeWidth:1.2}));
  marks.push(Plot.ruleX(xMinor1d,{x:d=>d,y1:0,y2:12,stroke:"#000",strokeWidth:1.2}));
  marks.push(Plot.ruleX(xTicks1d,{x:d=>d,y1:0,y2:24,stroke:"#000",strokeWidth:1.2}));
  marks.push(Plot.axisX({ticks:xTicks1d,tickSize:0,tickPadding:4,label:null,dx:-2,fontSize:23}));
  marks.push(Plot.frame({stroke:"#000",strokeWidth:1.6}));
  if(row===0) marks.push(Plot.text([title],{x:4.14,y:738,text:d=>d,fontSize:25.2,dy:-13,fill:"#000"}));
  const svg=Plot.plot({width:ML+W+1,height:MT+FH+MB,marginLeft:ML,marginRight:1,marginTop:MT,marginBottom:MB,
    x:{domain:[0,9],range:[ML,ML+W-1]},y:{domain:[0,738],range:[MT+FH,MT],axis:null},style:sty,marks});
  place(svg,795-ML,rowTop[row]-MT);
}
const expSets=[[expFeFe,linesExpFeFe],[expFeNi,linesExpFeNi],[expNiFe,linesExpNiFe],[expNiNi,linesExpNiNi]];
const amdSets=[[amdFeFe,linesAmdFeFe],[amdFeNi,linesAmdFeNi],[amdNiFe,linesAmdNiFe],[amdNiNi,linesAmdNiNi]];
const hists=[h1,h2,h3,h4];
for(let r=0;r<4;r++){
  const extraExp=[Plot.text([systems[r]],{x:1.5,y:18.05,text:d=>d,fontSize:23.3,fill:"#000",textAnchor:"start"}),
    ...gateLabels.map(([t,c,y])=>Plot.text([t],{x:18.8,y,text:d=>d,fill:lineColors[c],textAnchor:"start",fontSize:19}))];
  panel2d(expSets[r][0],expSets[r][1],r,39,titles[0],extraExp,13.7);
  colorbar(325,r);
  const extraAmd=[Plot.text(["Not Scaled"],{x:18.2,y:1.9,text:d=>d,fontSize:25.4,fill:"#000"})];
  panel2d(amdSets[r][0],amdSets[r][1],r,418,titles[1],extraAmd,12.4);
  colorbar(703,r);
  panel1d(hists[r],r,titles[2]);
}
</script></body></html>
